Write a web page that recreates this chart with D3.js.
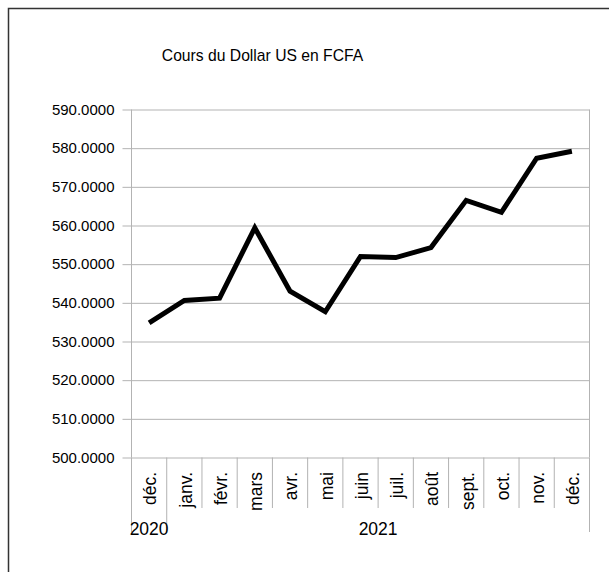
<!DOCTYPE html>
<html>
<head>
<meta charset="utf-8">
<script src="https://cdn.jsdelivr.net/npm/d3@7"></script>
<style>
  html, body { margin: 0; padding: 0; background: #fff; }
  svg { display: block; font-family: "Liberation Sans", Arial, sans-serif; }
</style>
</head>
<body>
<script>
// ---- data ----
const months = ["déc.", "janv.", "févr.", "mars", "avr.", "mai", "juin", "juil.", "août", "sept.", "oct.", "nov.", "déc."];
const years = ["2020", "2021"];
const yearSpans = [[0, 1], [1, 13]]; // category index ranges [start, end)
const values = [534.8, 540.6, 541.2, 559.4, 543.0, 537.7, 552.0, 551.7, 554.3, 566.5, 563.4, 577.4, 579.2];
const yTicks = [500, 510, 520, 530, 540, 550, 560, 570, 580, 590];
const chartTitle = "Cours du Dollar US en FCFA";

// ---- layout ----
const W = 609, H = 572;
const pLeft = 131.5, pRight = 589.5, pTop = 109.5, pBottom = 457.5;
const fontSize = 15;
const xFontSize = 17.5;

const svg = d3.select("body").append("svg").attr("width", W).attr("height", H);
svg.append("rect").attr("width", W).attr("height", H).attr("fill", "#fff");

// outer frame (only top/left visible)
svg.append("rect")
  .attr("x", 8.5).attr("y", 8.5).attr("width", 800).attr("height", 800)
  .attr("fill", "none").attr("stroke", "#333").attr("stroke-width", 1.5);

const idx = d3.range(months.length);
const x = d3.scaleBand().domain(idx).range([pLeft, pRight]).padding(0);
const y = d3.scaleLinear().domain([500, 590]).range([pBottom, pTop]);

// title
svg.append("text")
  .attr("x", 262.5).attr("y", 61)
  .attr("text-anchor", "middle")
  .attr("font-size", 15.7).attr("fill", "#000")
  .text(chartTitle);

const gridColor = "#b3b3b3";

// y axis with gridlines
const tickLen = pRight - pLeft + 9;
const yAxis = d3.axisLeft(y).tickValues(yTicks).tickSize(tickLen).tickSizeOuter(0)
  .tickFormat(d3.format(".4f"));
const gy = svg.append("g").attr("transform", `translate(${pRight},0)`).call(yAxis);
gy.select(".domain").remove();
gy.selectAll(".tick line").attr("stroke", gridColor).attr("stroke-width", 1);
gy.selectAll(".tick text")
  .attr("x", -tickLen - 8)
  .attr("font-size", fontSize).attr("fill", "#000")
  .attr("font-family", "Liberation Sans, Arial, sans-serif");

// plot frame verticals
svg.append("line").attr("x1", pLeft).attr("x2", pLeft).attr("y1", pTop).attr("y2", pBottom)
  .attr("stroke", gridColor);
svg.append("line").attr("x1", pRight).attr("x2", pRight).attr("y1", pTop).attr("y2", pBottom)
  .attr("stroke", gridColor);

// category separators
const boundaries = d3.range(months.length + 1);
const groupBounds = new Set([0, ...yearSpans.map(s => s[1])]);
svg.append("g").selectAll("line").data(boundaries).join("line")
  .attr("x1", i => i < months.length ? x(i) : pRight)
  .attr("x2", i => i < months.length ? x(i) : pRight)
  .attr("y1", pBottom)
  .attr("y2", i => groupBounds.has(i) ? 532 : 508)
  .attr("stroke", gridColor);

// month labels (rotated)
svg.append("g").selectAll("text").data(idx).join("text")
  .attr("transform", i => `translate(${x(i) + x.bandwidth() / 2},472) rotate(-90)`)
  .attr("text-anchor", "end")
  .attr("dy", "0.42em")
  .attr("font-size", xFontSize).attr("fill", "#000")
  .text(i => months[i]);

// year labels
svg.append("g").selectAll("text").data(years).join("text")
  .attr("x", (d, k) => (x(yearSpans[k][0]) + (yearSpans[k][1] < months.length ? x(yearSpans[k][1]) : pRight)) / 2)
  .attr("y", 535)
  .attr("text-anchor", "middle")
  .attr("font-size", xFontSize).attr("fill", "#000")
  .text(d => d);

// line
const line = d3.line().x((d, i) => x(i) + x.bandwidth() / 2).y(d => y(d));
svg.append("path").datum(values)
  .attr("d", line)
  .attr("fill", "none").attr("stroke", "#000")
  .attr("stroke-width", 5)
  .attr("stroke-linejoin", "miter");
</script>
</body>
</html>
